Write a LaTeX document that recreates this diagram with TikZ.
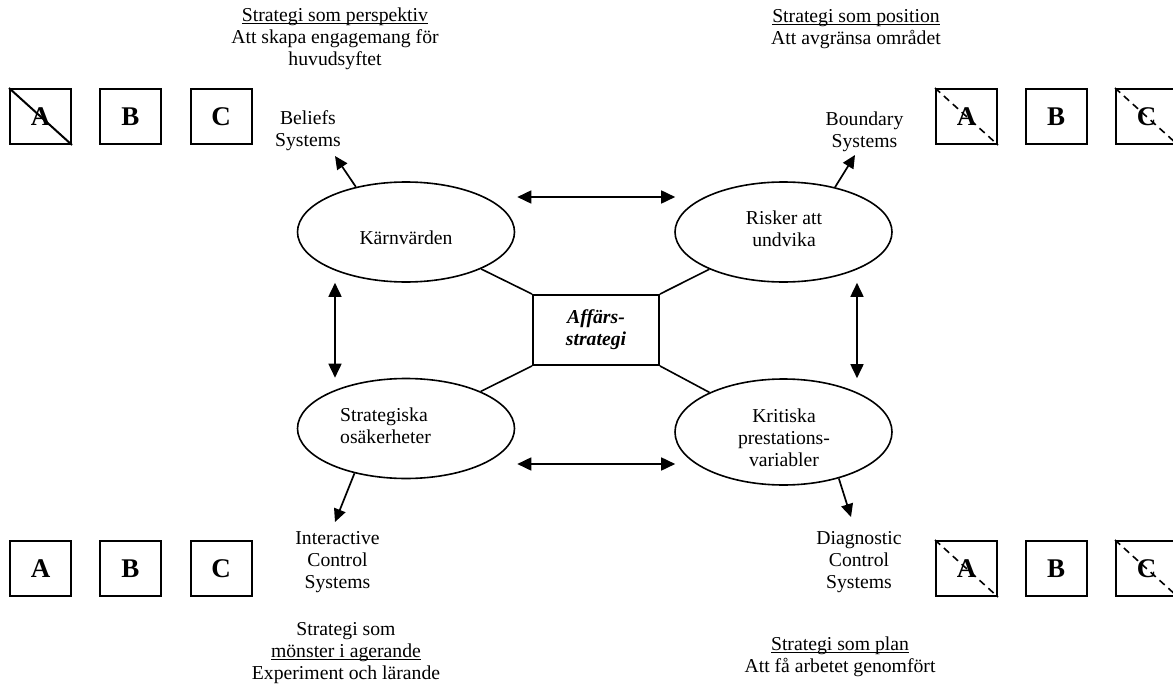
\documentclass[tikz,border=0pt]{standalone}
\usepackage{fontspec}
\setmainfont{Liberation Serif}
\usetikzlibrary{arrows.meta,shapes.geometric}
\newcommand\ulx[1]{\underline{\smash{#1}}}
\newcommand\txtsize{\fontsize{19.7}{22}\selectfont}
\newcommand\boxsize{\fontsize{27}{30}\selectfont\bfseries}
\begin{document}
\begin{tikzpicture}[x=1pt,y=-1pt,
  every node/.style={font=\txtsize, inner sep=0pt},
  lbl/.style={align=center},
  oval/.style={draw, ellipse, line width=1.6pt, minimum width=217pt, minimum height=100pt},
  letterbox/.style={draw, line width=2pt, minimum width=61pt, minimum height=55pt, font=\boxsize},
  centrebox/.style={draw, line width=1.9pt, minimum width=126pt, minimum height=70pt, align=center, font=\txtsize\bfseries\itshape},
  link/.style={line width=1.6pt},
  dbl/.style={line width=1.7pt, {Triangle[length=14pt,width=13pt]}-{Triangle[length=14pt,width=13pt]}},
  arr/.style={line width=1.7pt, -{Triangle[length=13pt,width=12pt]}},
  slash/.style={line width=2pt},
  dslash/.style={line width=1.6pt, dash pattern=on 7pt off 5pt},
]
\useasboundingbox (0,0) rectangle (1173,685);

% headings
\node[lbl] (persp) at (335,46) {\ulx{Strategi som perspektiv}\\Att skapa engagemang för\\huvudsyftet};
\node[lbl] (posit) at (856,36) {\ulx{Strategi som position}\\Att avgränsa området};
\node[lbl] (monst) at (346,653) {Strategi som\\\ulx{mönster i agerande}\\Experiment och lärande};
\node[lbl] (plan) at (840,664) {\ulx{Strategi som plan}\\Att få arbetet genomfört};

% system labels
\node[lbl] (bel) at (308,131) {Beliefs\\Systems};
\node[lbl] (bnd) at (864.5,131.5) {Boundary\\Systems};
\node[lbl] (ics) at (337.5,562) {Interactive\\Control\\Systems};
\node[lbl] (dcs) at (859,562) {Diagnostic\\Control\\Systems};

% ellipses
\node[oval] (kv) at (406,232) {};
\node[oval] (ra) at (783.5,232) {};
\node[oval] (so) at (406,428.5) {};
\node[oval, minimum height=106pt] (kp) at (783.5,432) {};
\node (kvt) at (406,238) {Kärnvärden};
\node[lbl] (rat) at (784,229) {Risker att\\undvika};
\node[align=left, anchor=west] (sot) at (340,426) {Strategiska\\osäkerheter};
\node[lbl] (kpt) at (784,438) {Kritiska\\prestations-\\variabler};

% centre
\node[centrebox] (af) at (596,330) {Affärs-\\strategi};
\draw[link] (af.north west) -- (kv);
\draw[link] (af.north east) -- (ra);
\draw[link] (af.south west) -- (so);
\draw[link] (af.south east) -- (kp);

% double arrows
\draw[dbl] ([shift={(2,-35)}]kv.east) -- ([shift={(1,-35)}]ra.west);
\draw[dbl] ([shift={(2,35.5)}]so.east) -- ([shift={(1,32)}]kp.west);
\draw[dbl] ([xshift=-71pt]kv.south) -- ([xshift=-71pt]so.north);
\draw[dbl] ([xshift=73.5pt]ra.south) -- ([xshift=73.5pt]kp.north);

% arrows to systems
\coordinate (belTip) at (335,156);
\coordinate (bndTip) at (855,155);
\coordinate (icsTip) at (335,522);
\coordinate (dcsTip) at (851,517);
\draw[arr] (kv.138) -- (belTip);
\draw[arr] (ra.41) -- (bndTip);
\draw[arr] (so.221) -- (icsTip);
\draw[arr] (kp.-40) -- (dcsTip);

% letter boxes
\node[letterbox] (a1) at (40.5,116.5) {A};
\node[letterbox] (b1) at (130.5,116.5) {B};
\node[letterbox] (c1) at (221,116.5) {C};
\draw[slash] (a1.north west) -- (a1.south east);

\node[letterbox] (a2) at (966.5,116.5) {A};
\node[letterbox] (b2) at (1056,116.5) {B};
\node[letterbox] (c2) at (1146.5,116.5) {C};
\draw[dslash] (a2.north west) -- (a2.south east);
\draw[dslash] (c2.north west) -- (c2.south east);

\node[letterbox] (a3) at (40.5,568.5) {A};
\node[letterbox] (b3) at (130.5,568.5) {B};
\node[letterbox] (c3) at (221,568.5) {C};

\node[letterbox] (a4) at (966.5,568.5) {A};
\node[letterbox] (b4) at (1056,568.5) {B};
\node[letterbox] (c4) at (1146.5,568.5) {C};
\draw[dslash] (a4.north west) -- (a4.south east);
\draw[dslash] (c4.north west) -- (c4.south east);
\end{tikzpicture}
\end{document}
